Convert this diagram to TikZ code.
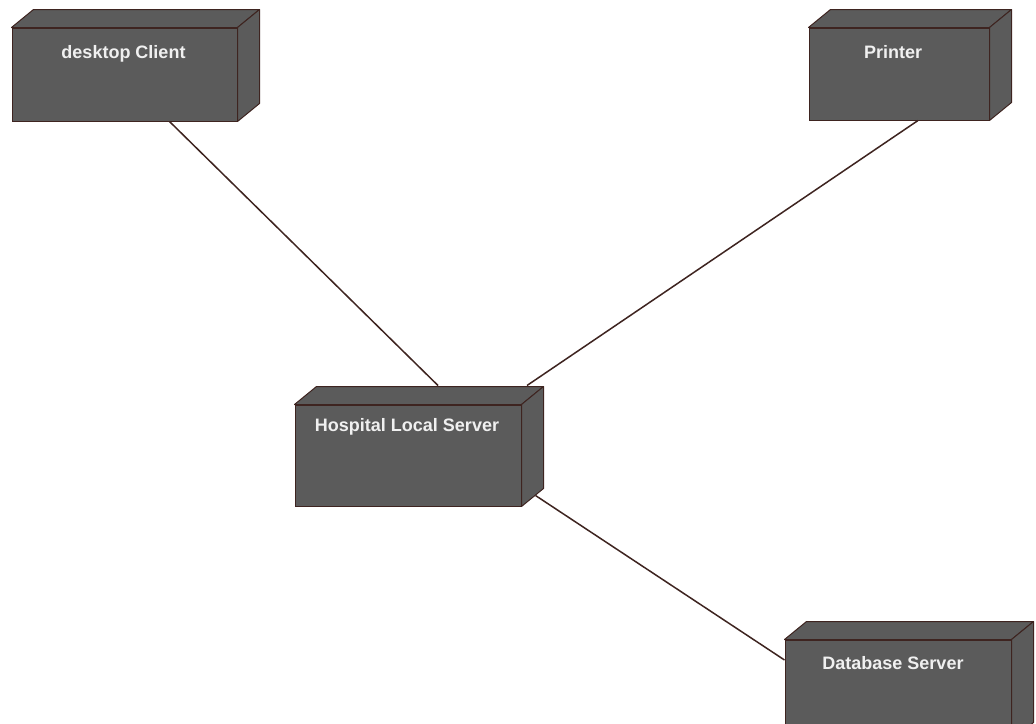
\documentclass[tikz,border=0pt]{standalone}
\usepackage{fontspec}
\setmainfont{Liberation Sans}
\usetikzlibrary{calc,%
		positioning}
\definecolor{grigio}{RGB}{91,91,91}
\definecolor{bordo}{RGB}{62,36,32}

\begin{document}
\begin{tikzpicture}[x=1pt,y=-1pt,
	nodo/.style={draw=bordo,fill=grigio,line width=1pt,inner sep=0pt},
	faccia/.style={draw=bordo,fill=grigio,line width=1pt,line join=round},
	etichetta/.style={text=white!94!black,font=\bfseries\fontsize{18}{21}\selectfont,anchor=base,inner sep=0pt},
	linea/.style={draw=bordo,line width=1.5pt}]
\useasboundingbox (0,0) rectangle (1036,723);
\clip (0,0) rectangle (1036,723);
\fill[white] (0,0) rectangle (1036,723);

%i nodi
\node[nodo,minimum width=225pt,minimum height=93pt] (client) at (124.5,74.5) {};
\node[nodo,minimum width=180pt,minimum height=92pt] (printer) at (899,74) {};
\node[nodo,minimum width=226pt,minimum height=101pt] (server) at (408,455.5) {};
\node[nodo,minimum width=226pt,minimum height=100pt] (database) at (898,690) {};

%le facce
\foreach \n in {client,printer,server,database}{
	\draw[faccia] (\n.north west) -- ++(22,-18) -- ($(\n.north east)+(22,-18)$) -- (\n.north east) -- cycle;
	\draw[faccia] (\n.north east) -- ++(22,-18) -- ($(\n.south east)+(22,-18)$) -- (\n.south east) -- cycle;
}

%le etichette
\node[etichetta] (client-l) at ($(client.north)+(-1,30.5)$) {desktop Client};
\node[etichetta] (printer-l) at ($(printer.north)+(-6,30.5)$) {Printer};
\node[etichetta] (server-l) at ($(server.north)+(-1,26.5)$) {Hospital Local Server};
\node[etichetta] (database-l) at ($(database.north)+(-5,29.5)$) {Database Server};

%i collegamenti
\draw[linea] ($(client.south)+(45,0)$) -- ($(server.north)+(30,-19)$);
\draw[linea] ($(printer.south)+(19,0)$) -- ($(server.north)+(119,-19)$);
\draw[linea] ($(server.south east)+(14,-11)$) -- ($(database.west)+(0,-30)$);

\end{tikzpicture}
\end{document}
